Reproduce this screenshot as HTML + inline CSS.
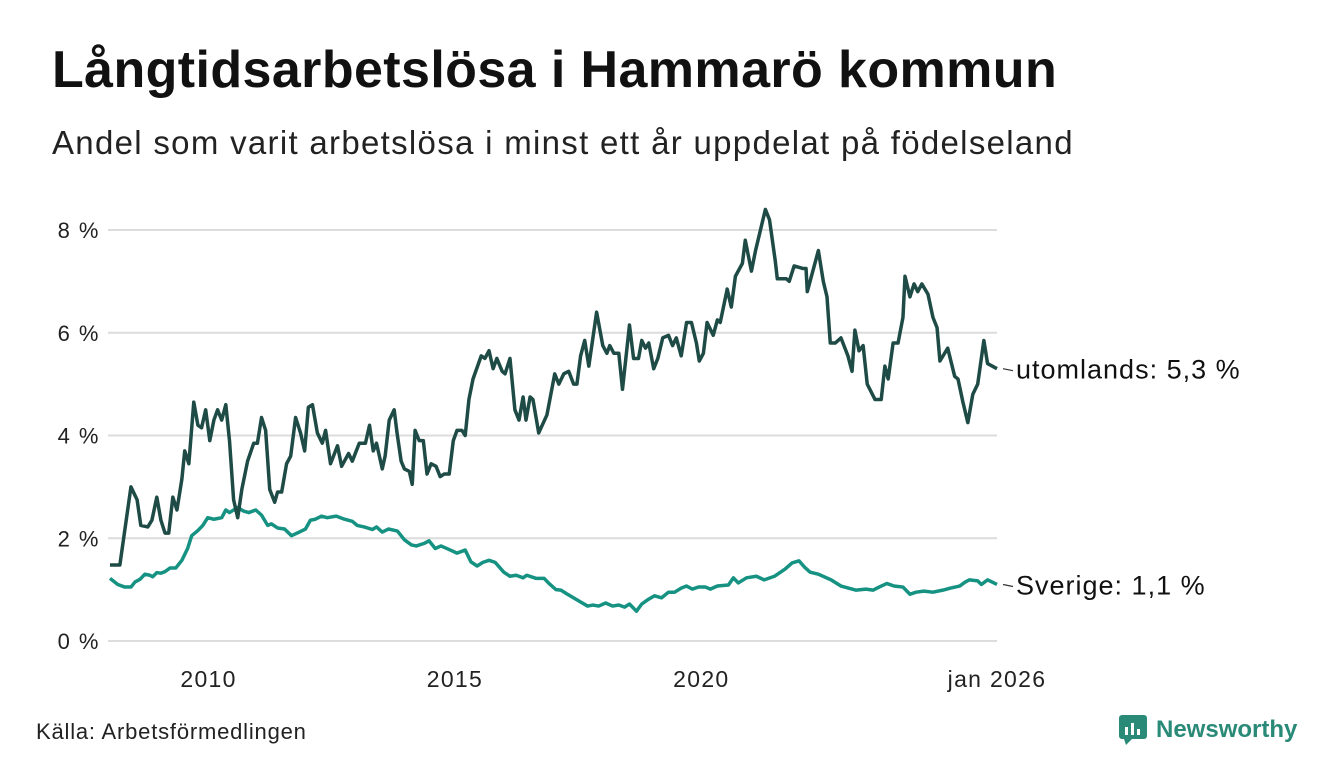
<!DOCTYPE html>
<html><head><meta charset="utf-8"><style>
body{margin:0;width:1340px;height:780px;background:#fff;font-family:"Liberation Sans","DejaVu Sans",sans-serif;overflow:hidden;position:relative;color:#111}
h1{position:absolute;left:52px;top:40px;margin:0;font-size:52px;font-weight:bold;letter-spacing:0.4px}
.sub{position:absolute;left:52px;top:124px;font-size:33px;letter-spacing:1.3px;color:#222}
.src{position:absolute;left:36px;top:719px;font-size:22px;letter-spacing:0.8px;color:#222}
.logo{position:absolute;left:1118px;top:714px;display:flex;align-items:center;gap:8px;font-size:24px;font-weight:bold;color:#2a8a78}
svg{position:absolute;left:0;top:0}
</style></head><body>
<h1>Långtidsarbetslösa i Hammarö kommun</h1>
<div class="sub">Andel som varit arbetslösa i minst ett år uppdelat på födelseland</div>
<div class="src">Källa: Arbetsförmedlingen</div>
<div class="logo"><svg width="30" height="32" style="position:static"><rect x="1" y="1" width="28" height="24" rx="3" fill="#2a8a78"/><polygon points="6,25 14,25 8,31" fill="#2a8a78"/><rect x="7" y="13" width="3" height="8" fill="#fff"/><rect x="13" y="9" width="3" height="12" fill="#fff"/><rect x="19" y="15" width="3" height="6" fill="#fff"/></svg><span>Newsworthy</span></div>
<svg id="chart" width="1340" height="780"></svg>
<script>
const yTicks=[0,2,4,6,8];
const xTickLabels=["2010","2015","2020","jan 2026"];
const xTickMonths=[24,84,144,216];
const uMonths=[0,2.4,5.1,6.6,7.5,9.2,10.2,11.4,12.4,13.4,14.3,15.3,16.3,17.5,18.2,19.2,20.4,21.4,22.3,23.3,24.3,25.3,26.2,27.2,28.2,29.1,30.1,31.1,32.1,33.5,35.0,35.9,36.9,37.9,38.9,40.1,40.8,41.8,43.0,44.0,45.2,46.4,47.4,48.3,49.3,50.5,51.7,52.5,53.7,55.4,56.4,58.1,59.0,60.7,62.2,63.2,64.1,64.9,66.3,67.0,68.0,69.2,69.9,70.9,71.7,72.9,73.6,74.3,75.3,76.3,77.2,78.2,79.4,80.4,81.4,82.6,83.6,84.5,85.7,86.5,87.4,88.4,90.4,91.3,92.3,93.3,94.2,95.5,96.2,97.4,98.6,99.6,100.6,101.3,102.3,103.0,104.4,106.4,108.3,109.3,110.5,111.7,112.9,113.7,114.6,115.6,116.6,118.5,120.0,121.0,121.7,122.7,123.9,124.8,126.5,127.5,128.7,129.5,130.4,131.2,132.4,133.4,134.6,136.0,137.0,137.9,139.1,140.4,141.6,142.8,143.5,144.5,145.4,146.9,147.9,148.6,150.3,151.3,152.3,154.0,154.7,156.2,157.2,159.6,160.6,162.0,162.5,164.7,165.4,166.6,168.8,169.5,169.8,172.5,173.7,174.6,175.4,176.6,178.0,179.7,180.7,181.4,182.4,183.4,184.4,186.3,187.8,188.7,189.5,190.7,191.9,193.1,193.6,194.8,195.8,196.7,197.7,199.2,200.4,201.4,202.1,204.0,205.7,206.5,207.7,208.9,210.1,211.3,212.8,213.7,216];
const uValues=[1.48,1.48,3.0,2.75,2.25,2.22,2.35,2.8,2.35,2.1,2.1,2.8,2.55,3.15,3.7,3.45,4.65,4.2,4.15,4.5,3.9,4.3,4.5,4.3,4.6,3.9,2.75,2.4,2.95,3.5,3.85,3.85,4.35,4.1,2.95,2.7,2.9,2.9,3.45,3.6,4.35,4.05,3.7,4.55,4.6,4.05,3.85,4.1,3.45,3.8,3.4,3.65,3.5,3.85,3.85,4.2,3.7,3.85,3.35,3.6,4.3,4.5,4.05,3.5,3.35,3.3,3.05,4.1,3.9,3.9,3.25,3.45,3.4,3.2,3.25,3.25,3.9,4.1,4.1,4.0,4.7,5.1,5.55,5.5,5.65,5.3,5.5,5.25,5.2,5.5,4.5,4.3,4.75,4.3,4.75,4.7,4.05,4.4,5.2,5.0,5.2,5.25,5.0,5.0,5.55,5.85,5.35,6.4,5.75,5.6,5.75,5.6,5.6,4.9,6.15,5.5,5.5,5.85,5.7,5.8,5.3,5.5,5.9,5.95,5.75,5.9,5.55,6.2,6.2,5.8,5.45,5.6,6.2,5.95,6.25,6.2,6.85,6.5,7.1,7.35,7.8,7.2,7.6,8.4,8.2,7.4,7.05,7.05,7.0,7.3,7.25,7.25,6.8,7.6,7.0,6.7,5.8,5.8,5.9,5.55,5.25,6.05,5.65,5.75,5.0,4.7,4.7,5.35,5.1,5.8,5.8,6.3,7.1,6.7,6.95,6.8,6.95,6.75,6.3,6.1,5.45,5.7,5.15,5.1,4.65,4.25,4.8,5.0,5.85,5.4,5.3];
const sMonths=[0,1.9,3.6,5.1,6.1,7.3,8.5,9.7,10.4,11.4,12.4,13.4,14.6,16.0,17.5,18.9,19.9,21.4,22.6,23.8,25.3,27.2,28.2,29.1,31.1,32.5,33.8,35.5,36.9,38.4,39.3,40.8,42.5,44.2,46.1,47.6,48.8,50.0,51.5,52.9,55.1,57.1,59.0,60.2,61.9,63.9,64.9,66.3,67.8,70.0,71.7,73.4,74.6,76.5,77.7,79.2,80.6,82.6,84.5,86.5,87.9,89.4,90.8,92.3,93.8,95.9,97.4,98.9,100.6,101.5,103.7,105.7,106.9,108.6,109.8,111.2,112.9,114.6,116.3,117.6,119.0,120.7,122.4,123.9,125.3,126.5,128.2,129.5,130.9,132.6,134.3,136.0,137.5,139.1,140.4,141.8,143.3,145.0,146.2,147.9,150.6,151.8,153.0,155.0,157.4,159.3,161.8,164.4,166.1,167.8,169.1,170.5,172.5,175.6,178.0,181.7,184.1,185.8,187.3,189.2,190.9,193.1,194.8,196.3,198.2,200.4,202.8,204.7,206.9,208.3,209.3,211.3,212.2,213.7,216];
const sValues=[1.22,1.1,1.05,1.05,1.15,1.2,1.3,1.28,1.25,1.33,1.32,1.35,1.42,1.42,1.57,1.8,2.05,2.15,2.25,2.4,2.37,2.4,2.55,2.5,2.6,2.53,2.5,2.55,2.45,2.25,2.28,2.2,2.18,2.05,2.12,2.18,2.35,2.37,2.43,2.4,2.43,2.37,2.33,2.25,2.22,2.17,2.22,2.12,2.18,2.14,1.97,1.87,1.85,1.9,1.95,1.8,1.85,1.78,1.71,1.77,1.54,1.46,1.53,1.57,1.53,1.34,1.26,1.28,1.23,1.28,1.22,1.22,1.12,1.0,0.99,0.92,0.84,0.76,0.68,0.7,0.68,0.74,0.68,0.7,0.66,0.72,0.58,0.72,0.8,0.88,0.84,0.95,0.95,1.03,1.07,1.01,1.05,1.05,1.01,1.07,1.09,1.23,1.13,1.23,1.26,1.19,1.26,1.4,1.52,1.56,1.44,1.34,1.30,1.19,1.07,0.99,1.01,0.99,1.05,1.12,1.07,1.05,0.91,0.95,0.97,0.95,0.99,1.03,1.07,1.15,1.19,1.17,1.1,1.19,1.1];
const seriesLabels=["utomlands: 5,3 %","Sverige: 1,1 %"];

const NS="http://www.w3.org/2000/svg";
const svg=document.getElementById('chart');
const X=m=>110+m*(997-110)/216;
const Y=v=>641-v*(641-230)/8;
function mk(t,a){const e=document.createElementNS(NS,t);for(const k in a)e.setAttribute(k,a[k]);svg.appendChild(e);return e;}
yTicks.forEach(v=>{
  const g=mk('line',{x1:108,x2:997,y1:Y(v),y2:Y(v),stroke:'#dcdcdc','stroke-width':2});
  
  
  const t=mk('text',{x:100,y:Y(v)+8,'text-anchor':'end','font-size':22,'letter-spacing':1.5,fill:'#222','font-family':'Liberation Sans, sans-serif'});
  t.textContent=v+' %';
  
  
});
xTickLabels.forEach((l,i)=>{
  const t=mk('text',{x:X(xTickMonths[i]),y:687,'text-anchor':'middle','font-size':23,'letter-spacing':1.3,fill:'#222','font-family':'Liberation Sans, sans-serif'});
  t.textContent=l;
  
  
});
function line(ms,vs,col,name){
  const p=mk('polyline',{points:ms.map((m,i)=>X(m)+','+Y(vs[i])).join(' '),fill:'none',stroke:col,'stroke-width':3.5,'stroke-linejoin':'round'});
  
  
}
line(sMonths,sValues,'#169282','line-sverige');
line(uMonths,uValues,'#1e4b45','line-utomlands');
[[uMonths,uValues,0],[sMonths,sValues,1]].forEach(([ms,vs,i])=>{
  const yv=Y(vs[vs.length-1]);
  const c=mk('line',{x1:1003,x2:1013,y1:yv,y2:yv+2,stroke:'#333','stroke-width':1.2});
  
  
  const t=mk('text',{x:1016,y:yv+10,'font-size':27,'letter-spacing':1,fill:'#111','font-family':'Liberation Sans, sans-serif'});
  t.textContent=seriesLabels[i];
  
  
});
</script>
</body></html>
